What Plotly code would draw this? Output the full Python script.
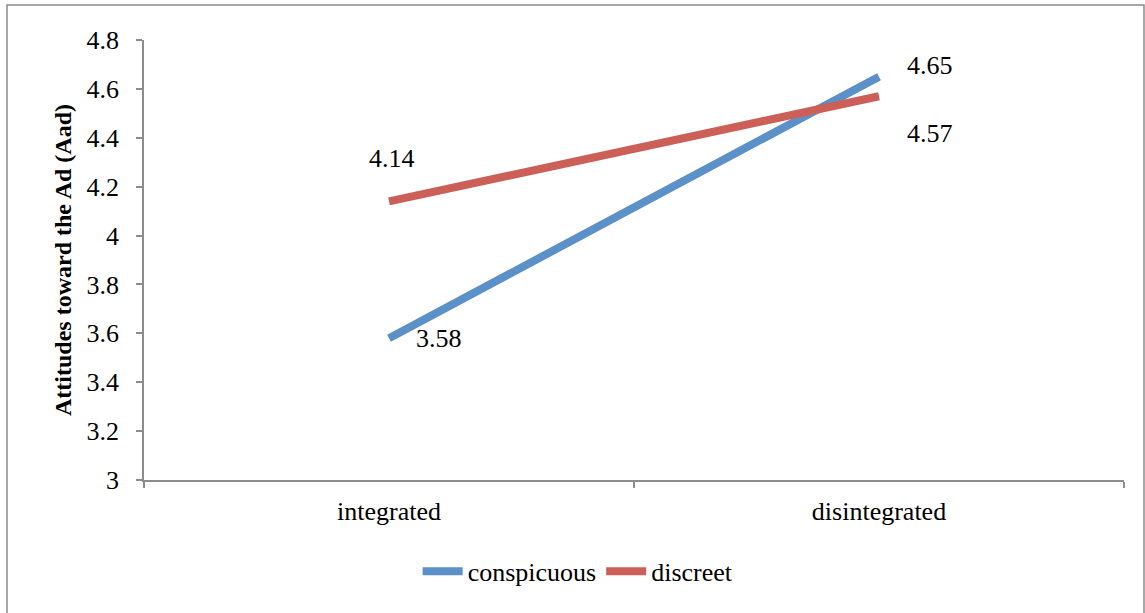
import plotly.graph_objects as go

categories = ["integrated", "disintegrated"]
conspicuous = [3.58, 4.65]
discreet = [4.14, 4.57]
y_ticks = [3, 3.2, 3.4, 3.6, 3.8, 4, 4.2, 4.4, 4.6, 4.8]
y_tick_labels = ["3", "3.2", "3.4", "3.6", "3.8", "4", "4.2", "4.4", "4.6", "4.8"]

BLUE = "#5B90C8"
RED = "#CC5F57"
AXIS = "#8C8C8C"
FONT = "Liberation Serif"
FS = 26

fig = go.Figure()
fig.add_trace(go.Scatter(x=categories, y=conspicuous, mode="lines", name="conspicuous",
                         line=dict(color=BLUE, width=8)))
fig.add_trace(go.Scatter(x=categories, y=discreet, mode="lines", name="discreet",
                         line=dict(color=RED, width=8)))

# data labels (positioned relative to data points)
label_offsets_c = [(50, 0), (51, 11)]
label_offsets_d = [(3, 43), (51, -37)]
for i, cat in enumerate(categories):
    for vals, offs in ((conspicuous, label_offsets_c), (discreet, label_offsets_d)):
        fig.add_annotation(x=cat, y=vals[i], text=f"{vals[i]:.2f}", showarrow=False,
                           xshift=offs[i][0], yshift=offs[i][1],
                           font=dict(family=FONT, size=FS, color="black"))

fig.update_layout(
    width=1145, height=613,
    margin=dict(l=144, r=21, t=40, b=133),
    paper_bgcolor="white", plot_bgcolor="white",
    font=dict(family=FONT, size=FS, color="black"),
    showlegend=True,
    legend=dict(orientation="h", x=0.443, xanchor="center", y=-0.154, yanchor="top",
                font=dict(family=FONT, size=FS, color="black"),
                itemwidth=40, tracegroupgap=0),
    xaxis=dict(type="category", range=[-0.5, 1.5], tickson="boundaries",
               ticks="outside", ticklen=6, tickcolor=AXIS, tickwidth=1.5,
               showline=True, linecolor=AXIS, linewidth=1.5, showgrid=False,
               zeroline=False, tickfont=dict(family=FONT, size=FS),
               ticklabelstandoff=7),
    yaxis=dict(range=[3, 4.8], tickvals=y_ticks, ticktext=y_tick_labels,
               ticks="outside", ticklen=6, tickcolor=AXIS, tickwidth=1.5,
               showline=True, linecolor=AXIS, linewidth=1.5, showgrid=False,
               zeroline=False, tickfont=dict(family=FONT, size=FS),
               ticklabelstandoff=12,
               title=dict(text="<b>Attitudes toward the Ad (Aad)</b>",
                          font=dict(family=FONT, size=24), standoff=8)),
)

fig.add_shape(type="rect", xref="paper", yref="paper",
              x0=(7 - 144) / 980, x1=(1144 - 144) / 980,
              y0=(480 - 640) / 440, y1=(480 - 5) / 440,
              line=dict(color=AXIS, width=1.5), fillcolor="rgba(0,0,0,0)", layer="below")

fig.write_html("out.html", config={"displayModeBar": False},
               post_script="document.body.style.margin='0px';")
